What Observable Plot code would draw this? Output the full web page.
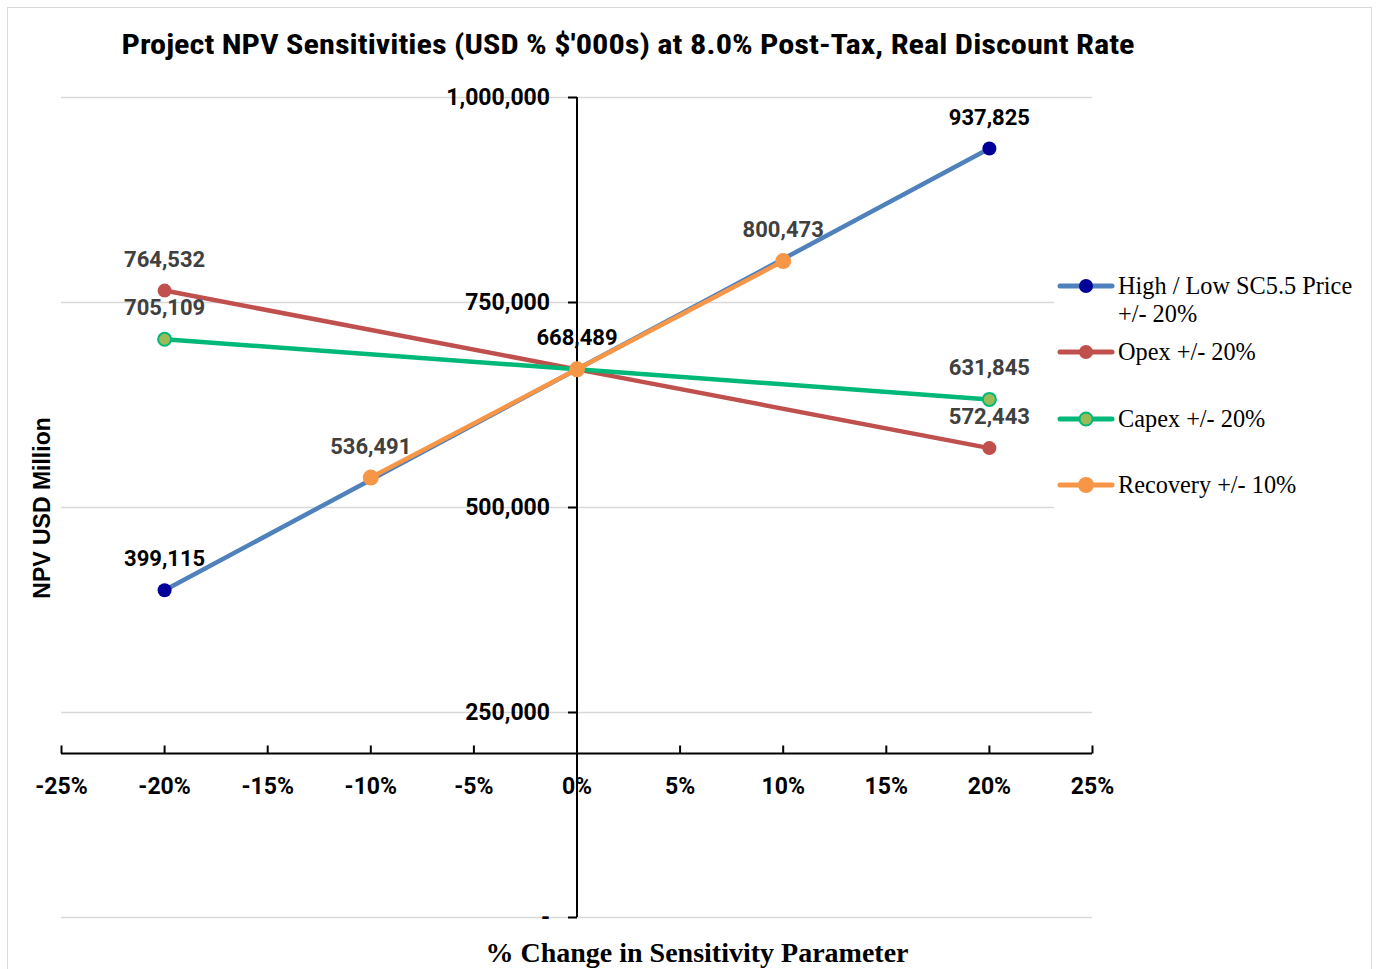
<!DOCTYPE html>
<html>
<head>
<meta charset="utf-8">
<script src="https://cdn.jsdelivr.net/npm/d3@7"></script>
<script src="https://cdn.jsdelivr.net/npm/@observablehq/plot@0.6"></script>
<style>
  body { margin: 0; background: #fff; }
  #wrap { position: relative; width: 1376px; height: 969px; overflow: hidden; background: #fff; }
  #wrap svg.plot { position: absolute; left: 0; top: 0; }
  #frame { position: absolute; left: 7px; top: 7px; width: 1365px; height: 990px; border: 1px solid #d9d9d9; box-sizing: border-box; pointer-events: none; }
  #title { position: absolute; left: 0; top: 28px; width: 1256px; text-align: center; white-space: nowrap;
           font-family: "Roboto Condensed", "Liberation Sans Narrow", "DejaVu Sans Condensed", Roboto, sans-serif;
           font-stretch: condensed; font-weight: 700; font-size: 27px; line-height: 34px; color: #000; }
  #title span { display: inline-block; transform-origin: center; }
  #ytitle { position: absolute; left: 42px; top: 508px; transform: translate(-50%, -50%) rotate(-90deg);
            font-family: "Liberation Sans", Arial, sans-serif; font-weight: 700; font-size: 23px; white-space: nowrap; color: #000; }
  #xtitle { position: absolute; left: 697px; top: 953px; transform: translate(-50%, -50%);
            font-family: "Liberation Serif", "DejaVu Serif", serif; font-weight: 700; font-size: 28px; white-space: nowrap; color: #000; }
  #legendbg { position: absolute; left: 1054px; top: 262px; width: 316px; height: 248px; background: #fff; }
  .leg { position: absolute; left: 1057px; height: 28px; display: flex; align-items: center;
         font-family: "Liberation Serif", "DejaVu Serif", serif; font-size: 24.3px; color: #000; white-space: nowrap; }
  .leg svg { display: block; margin-right: 3px; }
  .leg .txt { line-height: 28px; }
</style>
</head>
<body>
<div id="wrap">
  <div id="title"><span id="titletext"></span></div>
</div>
<script>
// ---------- data ----------
const pctChange   = [-0.20, 0.00, 0.20];
const priceNPV    = [399115, 668489, 937825];
const opexNPV     = [764532, 668489, 572443];
const capexNPV    = [705109, 668489, 631845];
const recoveryPct = [-0.10, 0.00, 0.10];
const recoveryNPV = [536491, 668489, 800473];

const seriesNames = ["High / Low SC5.5 Price +/- 20%", "Opex +/- 20%", "Capex +/- 20%", "Recovery +/- 10%"];

const xTicks      = [-0.25, -0.20, -0.15, -0.10, -0.05, 0, 0.05, 0.10, 0.15, 0.20, 0.25];
const xTickLabels = ["-25%", "-20%", "-15%", "-10%", "-5%", "0%", "5%", "10%", "15%", "20%", "25%"];
const yTicks      = [0, 250000, 500000, 750000, 1000000];
const yTickLabels = ["-", "250,000", "500,000", "750,000", "1,000,000"];
const xAxisCrossesAt = 200000;

const titleText  = "Project NPV Sensitivities (USD % $'000s) at 8.0% Post-Tax, Real Discount Rate";
const yTitleText = "NPV USD Million";
const xTitleText = "% Change in Sensitivity Parameter";

// ---------- styles ----------
const styles = [
  { line: "#4F81BD", fill: "#000099", stroke: "#000099", sw: 0,   r: 7, label: "#000000", showIdx: [0, 1, 2] },
  { line: "#C0504D", fill: "#C0504D", stroke: "#C0504D", sw: 0,   r: 7, label: "#404040", showIdx: [0, 2] },
  { line: "#00B878", fill: "#9BBB59", stroke: "#00B878", sw: 2,   r: 6.5, label: "#404040", showIdx: [0, 2] },
  { line: "#F79646", fill: "#F79646", stroke: "#F79646", sw: 0,   r: 8, label: "#404040", showIdx: [0, 2] }
];

const seriesX = [pctChange, pctChange, pctChange, recoveryPct];
const seriesY = [priceNPV, opexNPV, capexNPV, recoveryNPV];

const rows = seriesNames.map((name, si) => seriesX[si].map((x, i) => ({ series: name, si, i, pct: x, npv: seriesY[si][i] })));

const fmt = d3.format(",");
const labelFont = "Roboto, 'Liberation Sans', sans-serif";

const leftTick = { draw(ctx) { ctx.moveTo(-9, 0); ctx.lineTo(0, 0); } };
const upTick   = { draw(ctx) { ctx.moveTo(0, 0); ctx.lineTo(0, -8); } };

const marks = [
  Plot.ruleY(yTicks, { stroke: "#d9d9d9", strokeWidth: 1.5 }),
  Plot.ruleX([0], { y1: yTicks[0], y2: yTicks[yTicks.length - 1], stroke: "#000", strokeWidth: 2 }),
  Plot.ruleY([xAxisCrossesAt], { x1: xTicks[0], x2: xTicks[xTicks.length - 1], stroke: "#000", strokeWidth: 2 }),
  Plot.dot(yTicks, { x: () => 0, y: d => d, symbol: leftTick, fill: "none", stroke: "#000", strokeWidth: 2 }),
  Plot.dot(xTicks, { x: d => d, y: () => xAxisCrossesAt, symbol: upTick, fill: "none", stroke: "#000", strokeWidth: 2 }),
  Plot.text(yTicks, { x: () => 0, y: d => d, text: (d, i) => yTickLabels[i], dx: -27, textAnchor: "end",
    fontSize: 23, fontWeight: 700, fontFamily: labelFont, fill: "#000" }),
  Plot.text(xTicks, { x: d => d, y: () => xAxisCrossesAt, text: (d, i) => xTickLabels[i], dy: 33,
    fontSize: 23, fontWeight: 700, fontFamily: labelFont, fill: "#000" })
];

rows.forEach((data, si) => {
  const s = styles[si];
  marks.push(Plot.line(data, { x: "pct", y: "npv", stroke: s.line, strokeWidth: 4.5, strokeLinecap: "round" }));
  marks.push(Plot.dot(data, { x: "pct", y: "npv", r: s.r, fill: s.fill, stroke: s.stroke, strokeWidth: s.sw }));
});

rows.forEach((data, si) => {
  const s = styles[si];
  marks.push(Plot.text(data.filter(d => s.showIdx.includes(d.i)), {
    x: "pct", y: "npv", text: d => fmt(d.npv), dy: -31,
    fontSize: 22, fontWeight: 700, fontFamily: labelFont, fill: s.label
  }));
});

const chart = Plot.plot({
  width: 1376,
  height: 969,
  marginLeft: 61,
  marginRight: 284,
  marginTop: 97,
  marginBottom: 52,
  x: { domain: [xTicks[0], xTicks[xTicks.length - 1]], axis: null },
  y: { domain: [yTicks[0], yTicks[yTicks.length - 1]], axis: null },
  style: { background: "transparent" },
  marks
});
chart.classList.add("plot");

const wrap = document.getElementById("wrap");
wrap.insertBefore(chart, wrap.firstChild);

// title
const tt = document.getElementById("titletext");
tt.textContent = titleText;

// axis titles
const yt = document.createElement("div"); yt.id = "ytitle"; yt.textContent = yTitleText; wrap.appendChild(yt);
const xt = document.createElement("div"); xt.id = "xtitle"; xt.textContent = xTitleText; wrap.appendChild(xt);

// legend
const lbg = document.createElement("div"); lbg.id = "legendbg"; wrap.appendChild(lbg);
const legendCenters = [286, 352, 419, 485];
seriesNames.forEach((name, si) => {
  const s = styles[si];
  const item = document.createElement("div");
  item.className = "leg";
  item.style.top = (legendCenters[si] - 14) + "px";
  item.innerHTML = `<svg width="58" height="28"><line x1="3" y1="14" x2="55" y2="14" stroke="${s.line}" stroke-width="5" stroke-linecap="round"/>` +
    `<circle cx="29" cy="14" r="${s.r}" fill="${s.fill}" stroke="${s.stroke}" stroke-width="${s.sw}"/></svg>`;
  const txt = document.createElement("div");
  txt.className = "txt";
  if (si === 0) {
    txt.innerHTML = "High / Low SC5.5 Price<br>+/- 20%";
    item.style.alignItems = "flex-start";
    item.style.height = "56px";
  } else {
    txt.textContent = name;
  }
  item.appendChild(txt);
  wrap.appendChild(item);
});

const frame = document.createElement("div"); frame.id = "frame"; wrap.appendChild(frame);

// fit title width to the reference span
const w = tt.getBoundingClientRect().width;
if (w > 0) tt.style.transform = `scaleX(${1013 / w})`;
</script>
</body>
</html>
